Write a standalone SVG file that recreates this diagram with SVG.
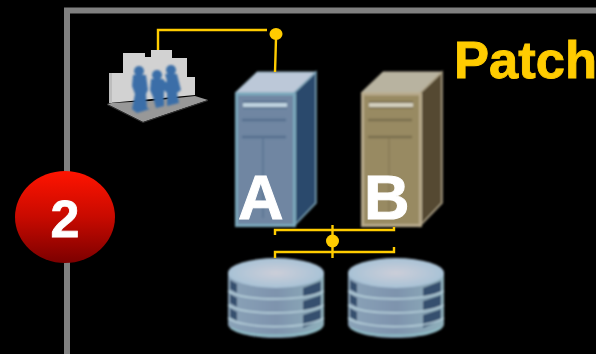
<svg xmlns="http://www.w3.org/2000/svg" width="596" height="354" viewBox="0 0 596 354">
<defs>
<linearGradient id="red" x1="0" y1="0" x2="0" y2="1"><stop offset="0" stop-color="#ff1400"/><stop offset="0.5" stop-color="#c80a00"/><stop offset="1" stop-color="#7c0000"/></linearGradient>
<linearGradient id="band" x1="0" y1="0" x2="1" y2="0"><stop offset="0" stop-color="#8aa3b8"/><stop offset="0.5" stop-color="#7e93ad"/><stop offset="1" stop-color="#8fb0bb"/></linearGradient>
<radialGradient id="disctop"><stop offset="0" stop-color="#ccced9"/><stop offset="1" stop-color="#a8c2d6"/></radialGradient>
<filter id="soft" x="-5%" y="-5%" width="110%" height="110%"><feGaussianBlur stdDeviation="0.8"/></filter>
<filter id="softer" x="-10%" y="-10%" width="120%" height="120%"><feGaussianBlur stdDeviation="1"/></filter>
<g id="disk">
<path d="M0,15 V66 C0,74 22,80 48,80 C74,80 96,74 96,66 V15 Z" fill="url(#band)"/>
<path d="M2,22 L9,26 V35 L2,31 Z M2,36 L9,40 V49 L2,45 Z M2,50 L9,54 V63 L2,59 Z" fill="#36506e"/>
<path d="M75,30 L93,23 V34 L75,40 Z M75,43 L93,37 V48 L75,54 Z M75,57 L93,51 V62 L75,70 Z" fill="#36506e"/>
<path d="M0,33 C15,43 75,44 96,33 M0,47 C15,57 75,58 96,47 M0,60 C15,71 75,72 96,60" fill="none" stroke="#b4cdd9" stroke-width="1.600"/>
<ellipse cx="48" cy="15" rx="48" ry="15" fill="url(#disctop)"/>
<path d="M3,70 C20,80 76,80 93,70" fill="none" stroke="#8fc0c8" stroke-width="2"/>
</g>
</defs>
<style>
.bus{fill:none;stroke:#ffcc00;stroke-width:2.400}
.dot{fill:#ffcc00}
.lbl{font-family:"Liberation Sans",Arial,sans-serif;font-weight:700;fill:#fff}
.bar{stroke-width:2.500;fill:none}
</style>
<rect width="596" height="354" fill="#000"/>
<path id="frame" d="M67,354 V10.500 H596" fill="none" stroke="#808080" stroke-width="6"/>

<g id="badge">
<ellipse cx="65" cy="217" rx="50" ry="46" fill="url(#red)"/>
<text class="lbl" x="65" y="237" font-size="52" text-anchor="middle" stroke="#fff" stroke-width="0.800">2</text>
</g>

<g id="title"><text x="454" y="78" font-family="'Liberation Sans',Arial,sans-serif" font-weight="700" font-size="52.500" fill="#ffcc00" stroke="#ffcc00" stroke-width="0.900">Patch</text></g>

<g id="users">
<path d="M109,73 H123 V53 H145 V57 H151 V50 H172 V58 H187 V77 H195 V95 L109,103 Z" fill="#d2d2d2"/>
<path d="M109,73 H112 V103 H109 Z" fill="#bdbdbd"/>
<path d="M107,104 L143,122 L208,100 L195,96 L150,101 L112,103 Z" fill="#989898"/>
<path d="M107,104 L143,122 L208,100 L208,101 L143,123 L107,105 Z" fill="#333"/>
<g fill="#3a6ea8" filter="url(#softer)">
<ellipse cx="139" cy="71" rx="5" ry="5"/>
<path d="M133,75 H146 L148,90 L146,94 L147,108 L150,109 L137,113 L132,109 L135,94 L132,86 Z"/>
<ellipse cx="157" cy="75" rx="5" ry="5"/>
<path d="M151,79 H163 L169,86 L164,91 V106 L156,108 L153,97 L150,90 Z"/>
<ellipse cx="171" cy="70" rx="5" ry="5"/>
<path d="M165,74 H177 L181,90 L177,93 L179,103 L167,106 L167,93 L162,88 L167,81 Z"/>
</g>
</g>

<g id="server-a" filter="url(#soft)">
<path d="M235,93 L257,72 H316 L294,93 Z" fill="#bcc8d8" stroke="#8fb0c0"/>
<path d="M294,93 L316,72 V203 L294,226 Z" fill="#2a4a6c" stroke="#7ba4b8" stroke-width="1.500"/>
<rect x="236.500" y="94" width="58" height="131.500" fill="#6f86a2" stroke="#7ba8bc" stroke-width="3"/>
<rect x="243" y="101" width="44" height="7.500" fill="#56708e"/>
<rect x="243" y="103" width="44" height="4" fill="#c0d4e0"/>
<path class="bar" d="M242,120 H286 M242,137 H286" stroke="#56708e"/>
<path d="M263,138 V218" stroke="#5f7896" stroke-width="2"/>
</g>
<g id="server-b" filter="url(#soft)">
<path d="M361,93 L383,72 H442 L420,93 Z" fill="#b8b3a0" stroke="#c0b8a0"/>
<path d="M420,93 L442,72 V203 L420,226 Z" fill="#544a30" stroke="#b4a88c" stroke-width="1.500"/>
<rect x="362.500" y="94" width="58" height="131.500" fill="#988a62" stroke="#b8aa8c" stroke-width="3"/>
<rect x="369" y="101" width="44" height="7.500" fill="#7a6e4e"/>
<rect x="369" y="103" width="44" height="4" fill="#d4d0c0"/>
<path class="bar" d="M368,120 H412 M368,137 H412" stroke="#7a6e4e"/>
<path d="M389,138 V218" stroke="#8c7e5a" stroke-width="2"/>
</g>
<text class="lbl" x="238" y="219" font-size="63" stroke="#fff" stroke-width="1">A</text>
<text class="lbl" x="364" y="219" font-size="63" stroke="#fff" stroke-width="1">B</text>

<g id="disk-1" filter="url(#softer)"><use href="#disk" x="228" y="258"/></g>
<g id="disk-2" filter="url(#softer)"><use href="#disk" x="348" y="258"/></g>

<g id="connectors">
<path class="bus" d="M158,50 V30 H267"/>
<path class="bus" d="M276,38 L275.500,56 L275,72"/>
<ellipse class="dot" cx="276" cy="34" rx="6.500" ry="6"/>
<path class="bus" d="M275,235 V230 H394 V227"/>
<path class="bus" d="M275,258 V252 H394 V247"/>
<path class="bus" d="M332.500,225 V258"/>
<circle class="dot" cx="332.500" cy="241" r="6.500"/>
</g>
</svg>
